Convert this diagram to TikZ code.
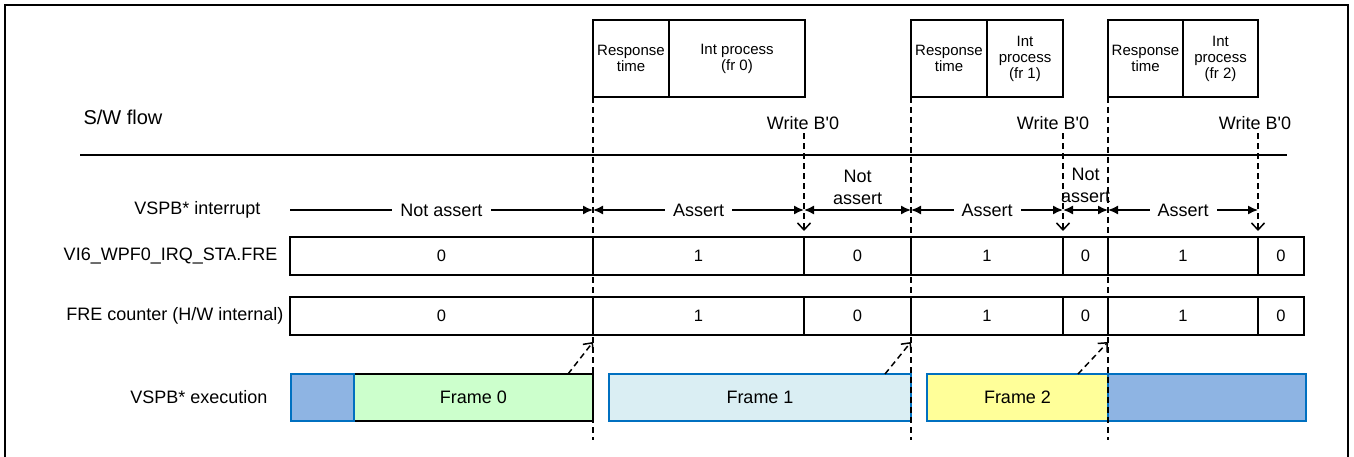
\documentclass[tikz,border=0pt]{standalone}
\usepackage{fontspec}
\setmainfont{Liberation Sans}
\usetikzlibrary{arrows.meta,positioning,calc}
\definecolor{idleblue}{HTML}{8EB4E3}
\definecolor{edgeblue}{HTML}{0070C0}
\definecolor{framegreen}{HTML}{CCFFCC}
\definecolor{framecyan}{HTML}{DAEEF3}
\definecolor{frameyellow}{HTML}{FFFF99}

\begin{document}
\begin{tikzpicture}[x=1pt,y=-1pt,
    lbl/.style={font=\fontsize{18}{22}\selectfont},
    cell/.style={draw,line width=1.5pt,outer sep=0pt,inner sep=0pt,minimum height=38pt,font=\fontsize{16.5}{18}\selectfont},
    boxtxt/.style={draw,line width=1.5pt,outer sep=0pt,inner sep=0pt,minimum height=77pt,align=center,font=\fontsize{15}{16}\selectfont},
    exec/.style={draw=edgeblue,line width=1.5pt,outer sep=0pt,inner sep=0pt,minimum height=47pt,font=\fontsize{18}{20}\selectfont},
    vguide/.style={line width=1.5pt,dash pattern=on 6pt off 4pt},
    wtip/.style={-{Straight Barb[length=7pt,width=13pt]}},
    assertspan/.style={line width=1.5pt,{Latex[length=10pt,width=9pt]}-{Latex[length=10pt,width=9pt]}}]
  \useasboundingbox (0,0) rectangle (1354,457);
  \draw[line width=2pt] (5,460) -- (5,5) -- (1348,5) -- (1348,460);

  % S/W flow
  \node[font=\fontsize{20}{22}\selectfont,anchor=west] (swflow) at (80,117) {S/W flow};
  \draw[line width=1.5pt] (80,155) -- (1287,155);
  \node[boxtxt,minimum width=76pt] (rt0) at (631,58.5) {Response\\time};
  \node[boxtxt,minimum width=136pt,right=0pt of rt0] (ip0) {Int process\\(fr 0)};
  \node[boxtxt,minimum width=76pt] (rt1) at (949,58.5) {Response\\time};
  \node[boxtxt,minimum width=76pt,right=0pt of rt1] (ip1) {Int\\process\\(fr 1)};
  \node[boxtxt,minimum width=75pt] (rt2) at (1145.5,58.5) {Response\\time};
  \node[boxtxt,minimum width=75pt,right=0pt of rt2] (ip2) {Int\\process\\(fr 2)};

  % registers
  \foreach \a/\b/\v [count=\i] in {290/593/0,593/804/1,804/911/0,911/1063/1,1063/1108/0,1108/1258/1,1258/1304/0}{
    \pgfmathsetmacro\w{\b-\a}
    \node[cell,minimum width=\w pt] (sta\i) at ({(\a+\b)/2},256) {\v};
    \node[cell,minimum width=\w pt] (cnt\i) at ({(\a+\b)/2},316) {\v};
  }
  \node[lbl,anchor=east,left=9pt of sta1] (lbsta) {VI6\_WPF0\_IRQ\_STA.FRE};
  \node[lbl,anchor=east,left=3pt of cnt1] (lbcnt) {FRE counter (H/W internal)};

  % execution
  \node[exec,draw=black,fill=framegreen,minimum width=239pt] (fr0) at (473.5,397.5) {Frame 0};
  \node[exec,fill=idleblue,minimum width=63pt,left=0pt of fr0] (idle0) {};
  \node[exec,fill=framecyan,minimum width=302pt] (fr1) at (760,397.5) {Frame 1};
  \node[exec,fill=frameyellow,minimum width=181pt] (fr2) at (1017.5,397.5) {Frame 2};
  \node[exec,fill=idleblue,minimum width=198pt,right=0pt of fr2] (idle1) {};
  \node[lbl,left=20pt of idle0] (lbexe) {VSPB* execution};

  % guides
  \coordinate (bot) at (0,440);
  \draw[vguide] (rt0.south west) -- (rt0.south west |- bot);
  \draw[vguide] (rt1.south west) -- (rt1.south west |- bot);
  \draw[vguide] (rt2.south west) -- (rt2.south west |- bot);

  % writes
  \node[lbl] (wr0) at (803,123) {Write B\textquotesingle 0};
  \node[lbl] (wr1) at (1053,123) {Write B\textquotesingle 0};
  \node[lbl] (wr2) at (1255,123) {Write B\textquotesingle 0};
  \draw[vguide,wtip] (wr0.south -| sta2.north east) -- ([yshift=6pt]sta2.north east);
  \draw[vguide,wtip] (wr1.south -| sta4.north east) -- ([yshift=6pt]sta4.north east);
  \draw[vguide,wtip] (wr2.south -| sta6.north east) -- ([yshift=6pt]sta6.north east);

  % interrupt
  \node[lbl,anchor=east] (lbint) at (264,210) {VSPB* interrupt};
  \foreach \x [count=\i from 0] in {290,593,804,911,1063,1108,1258}
    \coordinate (i\i) at (\x,210);
  \draw[line width=1.5pt,-{Latex[length=10pt,width=9pt]}] (i0) -- (i1) node[lbl,midway,fill=white,inner xsep=8pt] (na0) {Not assert};
  \draw[assertspan] (i1) -- (i2) node[lbl,midway,fill=white,inner xsep=8pt] (as0) {Assert};
  \draw[assertspan] (i2) -- (i3) node[lbl,midway,above=1pt,align=center] (na1) {Not\\assert};
  \draw[assertspan] (i3) -- (i4) node[lbl,midway,fill=white,inner xsep=8pt] (as1) {Assert};
  \draw[assertspan] (i4) -- (i5) node[lbl,midway,above=3pt,align=center] (na2) {Not\\assert};
  \draw[assertspan] (i5) -- (i6) node[lbl,midway,fill=white,inner xsep=8pt] (as2) {Assert};

  % frame end
  \draw[vguide,wtip] ([xshift=-25pt]fr0.north east) -- ([yshift=-7pt]cnt2.south west);
  \draw[vguide,wtip] ([xshift=-26pt]fr1.north east) -- ([yshift=-7pt]cnt4.south west);
  \draw[vguide,wtip] ([xshift=-30pt]fr2.north east) -- ([yshift=-7pt]cnt6.south west);
\end{tikzpicture}
\end{document}
